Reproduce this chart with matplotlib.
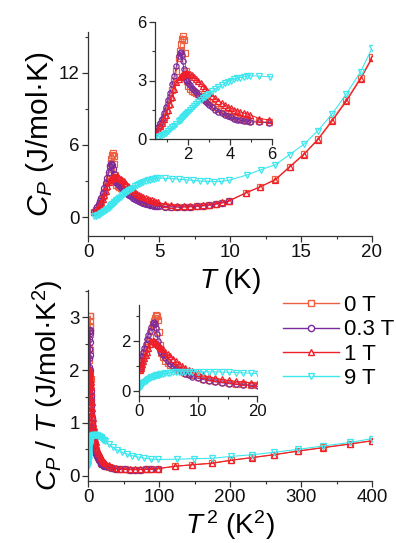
import matplotlib
matplotlib.use("Agg")
import matplotlib.pyplot as plt
from matplotlib.lines import Line2D
from matplotlib.ticker import MultipleLocator
import numpy as np

plt.rcParams['font.family'] = ['Liberation Sans', 'DejaVu Sans']
plt.rcParams['mathtext.fontset'] = 'custom'
plt.rcParams['mathtext.rm'] = 'Liberation Sans'
plt.rcParams['mathtext.it'] = 'Liberation Sans:italic'

# ---------------- data ----------------
labels = ['0 T', '0.3 T', '1 T', '9 T']
colors = ['#EE6040', '#7A2A9C', '#EE1E2A', '#3EE6EE']
markers = ['s', 'o', '^', 'v']

T_low = [0.45, 0.55, 0.65, 0.75, 0.85, 0.95, 1.05, 1.15, 1.25, 1.35, 1.45, 1.55,
         1.6, 1.65, 1.7, 1.75, 1.8, 1.85, 1.9, 1.95, 2.0, 2.1, 2.2, 2.3, 2.4, 2.5,
         2.6, 2.7, 2.8, 2.9, 3.0, 3.15, 3.3, 3.45, 3.6, 3.75, 3.9, 4.05, 4.2, 4.35,
         4.5, 4.65, 4.8, 4.95]
T_mid = [5.4, 5.85, 6.3, 6.75, 7.2, 7.65, 8.1, 8.55, 9.0, 9.45, 9.9]
T_hi = [11.1, 12.1, 13.2, 14.2, 15.2, 16.2, 17.2, 18.2, 19.2, 20.0]
T_mid9 = [5.4, 5.9, 6.4, 6.9, 7.4, 7.9, 8.4, 8.9, 9.4, 9.9]
T_hi9 = [11.2, 12.2, 13.2, 14.2, 15.2, 16.2, 17.2, 18.2, 19.2, 20.0]

cp_0T_low = [0.40, 0.55, 0.72, 0.92, 1.15, 1.42, 1.75, 2.10, 2.50, 2.95, 3.50, 4.15,
             4.50, 4.85, 5.15, 5.30, 5.10, 4.40, 3.50, 2.95, 2.70, 2.55, 2.48, 2.42,
             2.36, 2.30, 2.22, 2.14, 2.05, 1.96, 1.88, 1.76, 1.64, 1.53, 1.43, 1.34,
             1.26, 1.19, 1.13, 1.07, 1.03, 0.99, 0.96, 0.93]
cp_0T_mid = [0.90, 0.86, 0.84, 0.84, 0.86, 0.89, 0.94, 1.00, 1.08, 1.18, 1.30]
cp_0T_hi = [2.0, 2.5, 3.15, 4.2, 5.25, 6.5, 8.1, 9.75, 11.6, 13.3]

cp_03T_low = [0.42, 0.60, 0.80, 1.05, 1.32, 1.62, 1.98, 2.38, 2.80, 3.25, 3.75, 4.25,
              4.42, 4.45, 4.30, 4.00, 3.60, 3.25, 3.05, 2.95, 2.88, 2.76, 2.64, 2.52,
              2.40, 2.28, 2.16, 2.04, 1.93, 1.83, 1.74, 1.62, 1.51, 1.41, 1.32, 1.24,
              1.17, 1.11, 1.05, 1.00, 0.96, 0.93, 0.90, 0.88]
cp_03T_mid = [0.86, 0.84, 0.83, 0.84, 0.86, 0.89, 0.94, 1.00, 1.08, 1.18, 1.30]

cp_1T_low = [0.38, 0.50, 0.65, 0.82, 1.02, 1.25, 1.50, 1.80, 2.15, 2.55, 2.90, 3.10,
             3.18, 3.24, 3.28, 3.31, 3.33, 3.35, 3.36, 3.36, 3.35, 3.32, 3.27, 3.20,
             3.10, 2.98, 2.85, 2.72, 2.60, 2.48, 2.37, 2.22, 2.08, 1.95, 1.84, 1.74,
             1.65, 1.57, 1.50, 1.44, 1.38, 1.33, 1.28, 1.24]
cp_1T_mid = [1.05, 0.98, 0.94, 0.92, 0.92, 0.94, 0.98, 1.04, 1.12, 1.22, 1.34]
cp_1T_hi = [2.0, 2.5, 3.1, 4.15, 5.2, 6.45, 8.0, 9.65, 11.5, 13.2]

cp_9T_low = [0.08, 0.11, 0.15, 0.20, 0.26, 0.33, 0.41, 0.50, 0.59, 0.69, 0.79, 0.90,
             0.95, 1.00, 1.06, 1.11, 1.17, 1.22, 1.28, 1.33, 1.39, 1.49, 1.60, 1.70,
             1.80, 1.90, 1.99, 2.08, 2.17, 2.25, 2.33, 2.45, 2.56, 2.66, 2.76, 2.85,
             2.93, 3.00, 3.06, 3.11, 3.15, 3.19, 3.22, 3.25]
cp_9T_mid = [3.22, 3.20, 3.15, 3.10, 3.05, 3.00, 2.97, 2.95, 2.97, 3.05]
cp_9T_hi = [3.5, 3.95, 4.35, 5.2, 6.05, 7.2, 8.6, 10.25, 12.1, 14.05]

series = [
    (T_low + T_mid + T_hi, cp_0T_low + cp_0T_mid + cp_0T_hi),
    (T_low + T_mid, cp_03T_low + cp_03T_mid),
    (T_low + T_mid + T_hi, cp_1T_low + cp_1T_mid + cp_1T_hi),
    (T_low + T_mid9 + T_hi9, cp_9T_low + cp_9T_mid + cp_9T_hi),
]

# ---------------- figure ----------------
W, H = 396, 543
fig = plt.figure(figsize=(W / 100, H / 100), dpi=100)

def rect(x0, y0, x1, y1):
    return [x0 / W, 1 - y1 / H, (x1 - x0) / W, (y1 - y0) / H]

ax1 = fig.add_axes(rect(88, 32, 372, 236))
ax1i = fig.add_axes(rect(155, 22, 272, 139))
ax2 = fig.add_axes(rect(88, 290, 372, 481))
ax2i = fig.add_axes(rect(139, 305, 257, 396))

def style(ax, fs):
    for s in ['top', 'right']:
        ax.spines[s].set_visible(False)
    for s in ['left', 'bottom']:
        ax.spines[s].set_linewidth(0.9)
        ax.spines[s].set_color('#333333')
    ax.tick_params(which='major', direction='out', length=4, width=0.9,
                   labelsize=fs, pad=2, colors='#333333', labelcolor='#111111')
    ax.tick_params(which='minor', direction='out', length=2.5, width=0.8,
                   colors='#333333')
    ax.patch.set_alpha(0)

def draw(ax, transform, ms, lw):
    for (T, cp), c, m in zip(series, colors, markers):
        T = np.asarray(T)
        cp = np.asarray(cp)
        x, y = transform(T, cp)
        ax.plot(x, y, color=c, lw=lw, marker=m, ms=ms, mfc='none', mec=c, mew=0.9)

raw = lambda T, cp: (T, cp)
reduced = lambda T, cp: (T ** 2, cp / T)

# top main
draw(ax1, raw, 4.4, 0.8)
style(ax1, 13.5)
ax1.set_xlim(0, 20)
ax1.set_ylim(-1.58, 15.4)
ax1.xaxis.set_major_locator(MultipleLocator(5))
ax1.xaxis.set_minor_locator(MultipleLocator(2.5))
ax1.yaxis.set_major_locator(MultipleLocator(6))
ax1.yaxis.set_minor_locator(MultipleLocator(3))
ax1.set_xlabel(r'$T$ (K)', fontsize=20, labelpad=3)
ax1.set_ylabel(r'$C_P$ (J/mol·K)', fontsize=21.5, labelpad=2)

# top inset
draw(ax1i, raw, 3.8, 0.7)
style(ax1i, 12)
ax1i.set_xlim(0.43, 6)
ax1i.set_ylim(0, 6)
ax1i.xaxis.set_major_locator(MultipleLocator(2))
ax1i.xaxis.set_minor_locator(MultipleLocator(1))
ax1i.yaxis.set_major_locator(MultipleLocator(3))
ax1i.yaxis.set_minor_locator(MultipleLocator(1.5))

# bottom main
draw(ax2, reduced, 4.4, 0.8)
style(ax2, 13.5)
ax2.set_xlim(0, 400)
ax2.set_ylim(-0.1, 3.52)
ax2.xaxis.set_major_locator(MultipleLocator(100))
ax2.xaxis.set_minor_locator(MultipleLocator(50))
ax2.yaxis.set_major_locator(MultipleLocator(1))
ax2.yaxis.set_minor_locator(MultipleLocator(0.5))
ax2.set_xlabel(r'$T^{\,2}$ (K$^2$)', fontsize=20, labelpad=1)
ax2.set_ylabel(r'$C_P$ / $T$ (J/mol·K$^2$)', fontsize=20.5, labelpad=2)

# bottom inset
draw(ax2i, reduced, 3.8, 0.7)
style(ax2i, 12)
ax2i.set_xlim(0, 20)
ax2i.set_ylim(-0.2, 3.45)
ax2i.xaxis.set_major_locator(MultipleLocator(10))
ax2i.xaxis.set_minor_locator(MultipleLocator(5))
ax2i.yaxis.set_major_locator(MultipleLocator(2))
ax2i.yaxis.set_minor_locator(MultipleLocator(1))

# legend
handles = [Line2D([], [], color=c, lw=1.0, marker=m, ms=4.5, mfc='white', mec=c, mew=1.0)
           for c, m in zip(colors, markers)]
fig.legend(handles, labels, loc='upper left', bbox_to_anchor=(283 / W, 1 - 295 / H),
           frameon=False, fontsize=16, handlelength=2.5, handletextpad=0.25,
           labelspacing=0.15, borderpad=0, borderaxespad=0)

fig.savefig('out.png', dpi=100)
